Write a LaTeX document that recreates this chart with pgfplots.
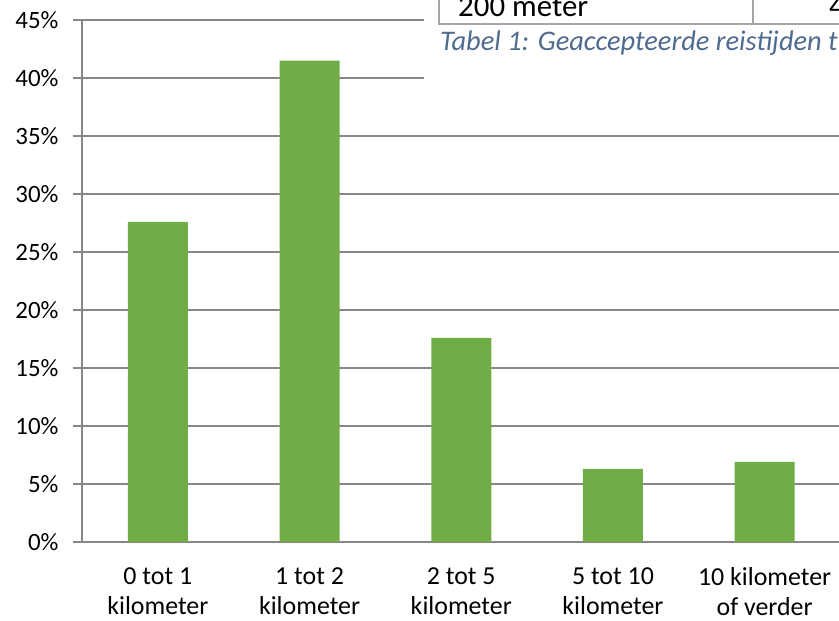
\documentclass[border=0pt]{standalone}
\usepackage{pgfplots}
\pgfplotsset{compat=1.18}
\usepackage{fontspec}
\setmainfont{Carlito}
\definecolor{bargreen}{HTML}{70AD47}
\definecolor{gridgray}{HTML}{878787}
\definecolor{capblue}{HTML}{4F6B8F}
\definecolor{tabgray}{HTML}{A6A6A6}
\begin{document}
\begin{tikzpicture}[x=1bp,y=1bp]
\useasboundingbox (0,0) rectangle (839,621);
\clip (0,0) rectangle (839,621);
\begin{axis}[
  at={(82bp,79bp)}, anchor=south west,
  scale only axis, width=758.5bp, height=522bp,
  xmin=-0.5, xmax=4.5, ymin=0, ymax=45,
  axis x line*=bottom, axis y line*=left,
  axis line style={gridgray, line width=1.2pt, -},
  ytick={0,5,...,45},
  yticklabel={\pgfmathprintnumber{\tick}\%},
  /pgf/number format/assume math mode=true,
  ymajorgrids, grid style={gridgray, line width=1.2pt},
  xtick={0,1,2,3,4},
  xticklabels={{0 tot 1\\kilometer},{1 tot 2\\kilometer},{2 tot 5\\kilometer},{5 tot 10\\kilometer},{10 kilometer\\of verder}},
  minor xtick={-0.5,0.5,1.5,2.5,3.5,4.5},
  tick align=outside, major tick length=9bp, minor tick length=9bp,
  xtick style={draw=none}, minor tick style={gridgray, line width=1.2pt},
  ytick style={gridgray, line width=1.2pt},
  xticklabel style={align=center, font=\fontsize{26}{30}\selectfont, yshift=-13bp},
  yticklabel style={font=\fontsize{25}{30}\selectfont, xshift=-11bp},
  ybar, bar width=60bp,
]
\addplot[fill=bargreen, draw=none] coordinates {(0,27.6) (1,41.5) (2,17.6) (3,6.3) (4,6.9)};
\end{axis}
\fill[white] (424,491) rectangle (839,621);
\draw[tabgray, line width=1.5pt] (439,621) -- (439,597) -- (839,597);
\draw[tabgray, line width=1.5pt] (753,597) -- (753,621);
\node[anchor=base west, inner sep=0pt, font=\fontsize{31}{36}\selectfont] at (458,604) {200 meter};
\node[anchor=base west, inner sep=0pt, font=\fontsize{31}{36}\selectfont] at (829,604) {4};
\node[anchor=base west, inner sep=0pt, font=\fontsize{28.5}{34}\selectfont\itshape, text=capblue] at (440,570) {Tabel 1: Geaccepteerde reistijden t};
\end{tikzpicture}
\end{document}
